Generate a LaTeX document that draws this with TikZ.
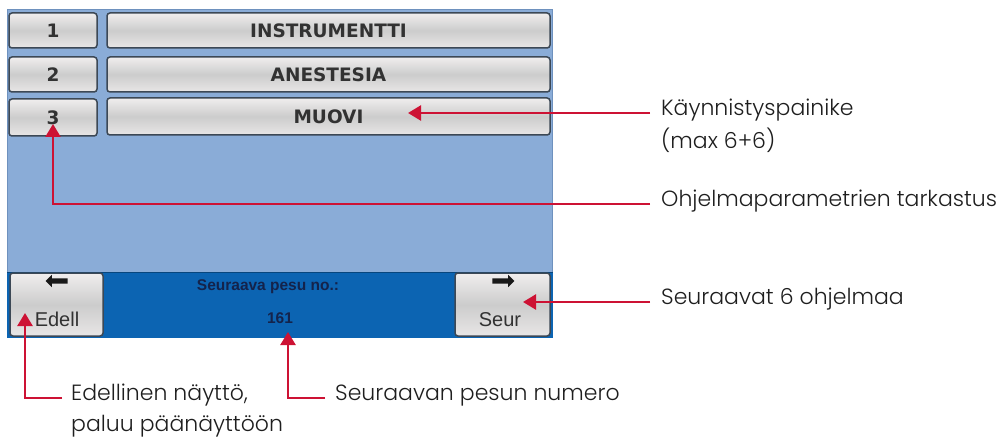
\documentclass[tikz,border=0pt]{standalone}
\usepackage{fontspec}
\setmainfont{Poppins}[UprightFont={* Light}]
\newfontfamily\keyfam{DejaVu Sans}
\newfontfamily\bandfam{Liberation Sans}
\usetikzlibrary{arrows.meta,shapes.arrows}
\definecolor{calloutred}{RGB}{205,18,52}
\definecolor{screenblue}{RGB}{138,172,215}
\definecolor{screenedge}{RGB}{110,145,190}
\definecolor{bandblue}{RGB}{12,100,178}
\definecolor{keyedge}{RGB}{60,72,85}
\definecolor{keytop}{RGB}{240,238,238}
\definecolor{keymid}{RGB}{204,204,204}
\definecolor{keybot}{RGB}{232,230,230}
\definecolor{keytext}{RGB}{50,50,50}
\definecolor{bandtext}{RGB}{20,35,75}
\definecolor{notetext}{RGB}{30,30,30}
\begin{document}
\begin{tikzpicture}[x=1pt,y=-1pt,
  key/.style={draw=keyedge,line width=1.5pt,rounded corners=3pt,
    top color=keytop,bottom color=keybot,middle color=keymid,
    inner sep=0pt,text=keytext,font=\keyfam\bfseries\fontsize{18.5}{20}\selectfont},
  keylabel/.style={inner sep=0pt,text=keytext,font=\bandfam\fontsize{20}{22}\selectfont},
  icon/.style={shape=single arrow,fill=black!90,inner xsep=0pt,inner ysep=2.5pt,
    minimum height=22pt,single arrow head extend=3.5pt,single arrow head indent=0pt},
  bandlabel/.style={inner sep=0pt,text=bandtext,font=\bandfam\bfseries\fontsize{15.5}{17}\selectfont},
  note/.style={anchor=mid west,inner xsep=11pt,inner ysep=0pt,text=notetext,
    font=\fontsize{22}{26}\selectfont},
  callout/.style={draw=calloutred,line width=2.4pt,-{Triangle[length=13pt,width=15pt]}}]
  \useasboundingbox (0,0) rectangle (1001,441);
  % screen
  \fill[screenblue] (7,9) rectangle (553,272);
  \draw[screenedge,line width=1pt] (7.5,272) -- (7.5,9.5) -- (552.5,9.5) -- (552.5,272);
  \fill[bandblue] (7,272) rectangle (553,338);
  \draw[bandblue!70!black,line width=1pt] (7,272.5) -- (553,272.5);
  % program keys
  \node[key,minimum width=88pt,minimum height=35pt] (n1) at (53,30.5) {1};
  \node[key,minimum width=88pt,minimum height=35pt] (n2) at (53,74.5) {2};
  \node[key,minimum width=88pt,minimum height=37pt] (n3) at (53,117.5) {3};
  \node[key,minimum width=443pt,minimum height=35pt] (p1) at (328.5,30.5) {INSTRUMENTTI};
  \node[key,minimum width=443pt,minimum height=35pt] (p2) at (328.5,74.5) {ANESTESIA};
  \node[key,minimum width=443pt,minimum height=37pt] (p3) at (328.5,116.5) {MUOVI};
  % bottom band
  \node[key,minimum width=93pt,minimum height=63pt] (prev) at (56.5,304.5) {};
  \node[key,minimum width=95pt,minimum height=63pt] (next) at (502.5,304.5) {};
  \node[icon,shape border rotate=180] (previcon) at (58,281) {};
  \node[icon] (nexticon) at (502,281) {};
  \node[keylabel] (prevtext) at (57,319) {Edell};
  \node[keylabel] (nexttext) at (500,320) {Seur};
  \node[bandlabel] (washtitle) at (268,287) {Seuraava pesu no.:};
  \node[bandlabel] (washno) at (280,318) {161};
  % callouts
  \coordinate (muovitip) at (408,113);
  \coordinate (n3tip) at (53,124);
  \coordinate (nexttip) at (523,302);
  \coordinate (prevtip) at (25,313);
  \coordinate (washtip) at (288,332);
  \node[note] (start) at (650,113) {Käynnistyspainike};
  \node[note,anchor=base west] (startmax) at ([yshift=-33pt]start.base west) {(max 6+6)};
  \node[note] (check) at (650,204) {Ohjelmaparametrien tarkastus};
  \node[note] (following) at (650,302) {Seuraavat 6 ohjelmaa};
  \node[note,inner xsep=9pt] (previous) at (62,398) {Edellinen näyttö,};
  \node[note,inner xsep=9pt,anchor=base west] (mainscreen) at ([yshift=-31pt]previous.base west) {paluu päänäyttöön};
  \node[note,inner xsep=10pt] (washnote) at (325,398) {Seuraavan pesun numero};
  \draw[callout] (start.mid west) -- (muovitip);
  \draw[callout] (check.mid west) -| (n3tip);
  \draw[callout] (following.mid west) -- (nexttip);
  \draw[callout] (previous.mid west) -| (prevtip);
  \draw[callout] (washnote.mid west) -| (washtip);
\end{tikzpicture}
\end{document}
